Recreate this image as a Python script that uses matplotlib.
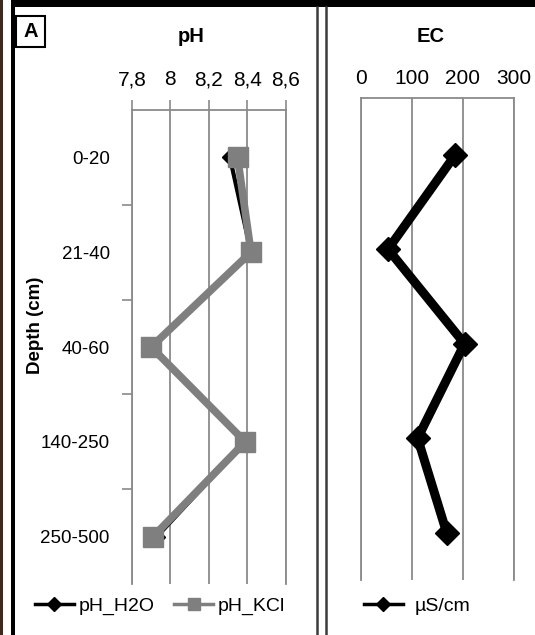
import matplotlib
matplotlib.use('Agg')
import matplotlib.pyplot as plt
from matplotlib.lines import Line2D
from matplotlib.patches import Rectangle
import numpy as np

# ---------------- data ----------------
depths = ['0-20', '21-40', '40-60', '140-250', '250-500']
ph_h2o = [8.31, 8.42, 7.90, 8.39, 7.93]
ph_kcl = [8.35, 8.42, 7.90, 8.39, 7.91]
ec_us = [185, 53, 203, 111, 168]
ph_ticks = [7.8, 8.0, 8.2, 8.4, 8.6]
ph_ticklabels = ['7,8', '8', '8,2', '8,4', '8,6']
ec_ticks = [0, 100, 200, 300]
ec_ticklabels = ['0', '100', '200', '300']

plt.rcParams['font.family'] = ['Liberation Sans', 'DejaVu Sans']

W, H = 535, 635
fig = plt.figure(figsize=(W / 100, H / 100), dpi=100)


def fx(px):
    return px / W


def fy(py):
    return 1 - py / H


GRID = '#8a8a8a'
KCL = '#7f7f7f'

# ---------------- pH panel ----------------
ax1 = fig.add_axes([fx(132), fy(584), fx(285.5) - fx(132), fy(110) - fy(584)])
yy = np.arange(len(depths))
ax1.plot(ph_h2o, yy, color='black', lw=3, marker='D', ms=8, zorder=3)
ax1.plot(ph_kcl, yy, color=KCL, lw=5.5, marker='s', ms=14, zorder=4)
ax1.set_xlim(7.8, 8.6)
ax1.set_ylim(4.5, -0.5)
ax1.set_xticks(ph_ticks)
ax1.set_xticklabels(ph_ticklabels)
ax1.xaxis.tick_top()
ax1.tick_params(axis='x', direction='out', length=7, width=1.2, color=GRID,
                pad=8, labelsize=15)
ax1.grid(axis='x', color=GRID, lw=1.3)
ax1.set_yticks(yy)
ax1.set_yticklabels(depths)
ax1.set_yticks(yy[:-1] + 0.5, minor=True)
ax1.tick_params(axis='y', which='major', length=0, pad=16, labelsize=13.5)
ax1.tick_params(axis='y', which='minor', direction='out', length=7, width=1.2, color=GRID)
ax1.spines['bottom'].set_visible(False)
for s in ['left', 'right', 'top']:
    ax1.spines[s].set_color(GRID)
    ax1.spines[s].set_linewidth(1.3)
ax1.set_axisbelow(True)

# ---------------- EC panel ----------------
ax2 = fig.add_axes([fx(361), fy(580), fx(514) - fx(361), fy(98) - fy(580)])
ax2.plot(ec_us, yy, color='black', lw=6.5, marker='D', ms=12, zorder=3)
ax2.set_xlim(0, 300)
ax2.set_ylim(4.5, -0.6)
ax2.set_xticks(ec_ticks)
ax2.set_xticklabels(ec_ticklabels)
ax2.xaxis.tick_top()
ax2.tick_params(axis='x', length=0, pad=7, labelsize=15)
ax2.set_yticks([])
ax2.grid(axis='x', color=GRID, lw=1.3)
ax2.spines['bottom'].set_visible(False)
for s in ['left', 'right', 'top']:
    ax2.spines[s].set_color(GRID)
    ax2.spines[s].set_linewidth(1.3)
ax2.set_axisbelow(True)

# ---------------- titles / labels ----------------
fig.text(fx(191), fy(37), 'pH', ha='center', va='center', fontsize=14.5, fontweight='bold')
fig.text(fx(431), fy(37), 'EC', ha='center', va='center', fontsize=14.5, fontweight='bold')
fig.text(fx(35), fy(325), 'Depth (cm)', ha='center', va='center', rotation=90,
         fontsize=13.5, fontweight='bold')
fig.text(fx(30.5), fy(31.5), 'A', ha='center', va='center', fontsize=14.5, fontweight='bold')
fig.add_artist(Rectangle((fx(16), fy(47)), fx(45) - fx(16), fy(16) - fy(47),
                         transform=fig.transFigure, fill=False, ec='black', lw=1.5))

# ---------------- legends ----------------
h1 = Line2D([], [], color='black', lw=2.5, marker='D', ms=7)
h2 = Line2D([], [], color=KCL, lw=2.5, marker='s', ms=9)
fig.legend([h1, h2], ['pH_H2O', 'pH_KCl'], loc='center', bbox_to_anchor=(fx(160), fy(606)),
           ncol=2, frameon=False, handlelength=2.0, handletextpad=0.25, columnspacing=1.0,
           fontsize=14, borderpad=0, borderaxespad=0)
h3 = Line2D([], [], color='black', lw=2.5, marker='D', ms=7)
fig.legend([h3], ['\u00b5S/cm'], loc='center', bbox_to_anchor=(fx(417), fy(606)),
           frameon=False, handlelength=2.0, handletextpad=0.6,
           fontsize=14, borderpad=0, borderaxespad=0)

# ---------------- frame decorations ----------------
fig.add_artist(Rectangle((0, 0), fx(3), 1, transform=fig.transFigure, color='#3b2a22', lw=0))
fig.add_artist(Rectangle((fx(11), 0), fx(4), 1, transform=fig.transFigure, color='black', lw=0))
fig.add_artist(Rectangle((fx(11), fy(7)), 1, 7 / H, transform=fig.transFigure,
                         color='black', lw=0))
for xp in [317, 326]:
    fig.add_artist(Line2D([fx(xp), fx(xp)], [0, fy(7)], transform=fig.transFigure,
                          color='#3c3c3c', lw=1.8))

fig.savefig('out.png', dpi=100)
